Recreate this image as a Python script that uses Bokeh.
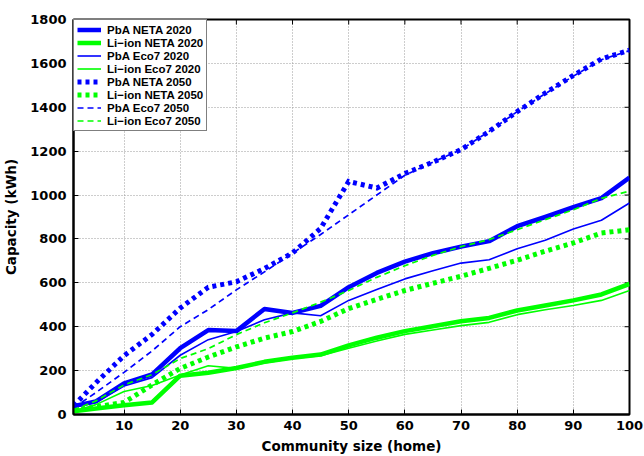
import math
from bokeh.plotting import figure
from bokeh.models import Range1d, FixedTicker, Legend, LegendItem
from bokeh.embed import file_html
from bokeh.resources import INLINE

# ---- data ----
community_size = [1, 5, 10, 15, 20, 25, 30, 35, 40, 45, 50, 55, 60, 65, 70, 75, 80, 85, 90, 95, 100]

pba_neta_2020 = [38, 60, 142, 183, 302, 385, 380, 481, 463, 495, 580, 645, 697, 735, 765, 790, 858, 900, 945, 986, 1080]
li_neta_2020 = [15, 27, 42, 55, 177, 190, 212, 240, 259, 273, 315, 350, 380, 402, 425, 440, 474, 497, 520, 547, 595]
pba_eco7_2020 = [32, 55, 130, 168, 270, 341, 378, 432, 463, 450, 520, 570, 618, 655, 690, 705, 755, 794, 845, 885, 964]
li_eco7_2020 = [15, 45, 105, 132, 180, 222, 210, 235, 255, 268, 302, 335, 365, 385, 405, 420, 455, 477, 497, 520, 565]
pba_neta_2050 = [40, 145, 268, 365, 485, 580, 605, 665, 736, 848, 1062, 1032, 1098, 1150, 1207, 1290, 1380, 1465, 1545, 1620, 1660]
li_neta_2050 = [18, 35, 55, 135, 210, 262, 308, 348, 378, 424, 483, 525, 565, 598, 630, 666, 703, 744, 782, 827, 842]
pba_eco7_2050 = [30, 100, 192, 290, 400, 478, 568, 650, 735, 820, 910, 1000, 1090, 1150, 1207, 1290, 1380, 1462, 1542, 1617, 1658]
li_eco7_2050 = [20, 62, 135, 182, 255, 300, 364, 418, 463, 512, 565, 625, 678, 725, 765, 797, 842, 888, 933, 985, 1018]

x_ticks = [10, 20, 30, 40, 50, 60, 70, 80, 90, 100]
y_ticks = [0, 200, 400, 600, 800, 1000, 1200, 1400, 1600, 1800]

series = [
    ("PbA NETA 2020", pba_neta_2020, "#0000ff", 4.5, "solid"),
    ("Li\u2212ion NETA 2020", li_neta_2020, "#00ff00", 4.5, "solid"),
    ("PbA Eco7 2020", pba_eco7_2020, "#0000ff", 1.6, "solid"),
    ("Li\u2212ion Eco7 2020", li_eco7_2020, "#00ff00", 1.6, "solid"),
    ("PbA NETA 2050", pba_neta_2050, "#0000ff", 5, "4 4"),
    ("Li\u2212ion NETA 2050", li_neta_2050, "#00ff00", 5, "4 4"),
    ("PbA Eco7 2050", pba_eco7_2050, "#0000ff", 1.7, "6 4"),
    ("Li\u2212ion Eco7 2050", li_eco7_2050, "#00ff00", 1.7, "6 4"),
]

X_MIN, X_MAX = 1, 100
Y_MIN, Y_MAX = 0, 1800

p = figure(width=644, height=456, output_backend="svg", toolbar_location=None,
           x_range=Range1d(X_MIN, X_MAX), y_range=Range1d(Y_MIN, Y_MAX),
           min_border_left=71, min_border_right=15, min_border_top=19, min_border_bottom=41)

tick_font = "DejaVu Sans"
for ax in (p.xaxis[0], p.yaxis[0]):
    ax.major_label_text_font = tick_font
    ax.major_label_text_font_style = "bold"
    ax.major_label_text_font_size = "13px"
    ax.major_label_text_color = "black"
    ax.axis_label_text_font = tick_font
    ax.axis_label_text_font_style = "bold"
    ax.axis_label_text_font_size = "13.5px"
    ax.axis_label_text_color = "black"
    ax.major_tick_in = 5
    ax.major_tick_out = 0
    ax.minor_tick_line_color = None
    ax.axis_line_width = 2
    ax.axis_line_color = "black"
    ax.major_tick_line_color = "black"

p.xaxis[0].ticker = FixedTicker(ticks=x_ticks)
p.yaxis[0].ticker = FixedTicker(ticks=y_ticks)
p.xaxis[0].axis_label = "Community size (home)"
p.yaxis[0].axis_label = "Capacity (kWh)"
p.xaxis[0].major_label_standoff = 6
p.yaxis[0].major_label_standoff = 7
p.xaxis[0].axis_label_standoff = 5
p.yaxis[0].axis_label_standoff = 8

p.xgrid.ticker = FixedTicker(ticks=x_ticks)
p.ygrid.ticker = FixedTicker(ticks=y_ticks)
for g in (p.xgrid[0], p.ygrid[0]):
    g.grid_line_color = "#9a9a9a"
    g.grid_line_dash = "1 2"
    g.grid_line_width = 1

p.outline_line_color = "black"
p.outline_line_width = 2
p.background_fill_color = "white"
p.border_fill_color = "white"

# tick marks on the top and right edges (MATLAB box style), clipped to the frame
p.scatter(x_ticks, [Y_MAX] * len(x_ticks), marker="dash", angle=math.pi / 2,
          size=10, line_color="black", line_width=1)
p.scatter([X_MAX] * len(y_ticks), y_ticks, marker="dash",
          size=10, line_color="black", line_width=1)

items = []
for label, ys, color, lw, dash in series:
    r = p.line(community_size, ys, line_color=color, line_width=lw, line_dash=dash,
               line_join="round" if dash == "solid" else "miter")
    items.append(LegendItem(label=label, renderers=[r]))

legend = Legend(items=items, location="top_left", margin=0, padding=3, spacing=0,
                glyph_width=24, glyph_height=13, label_height=13, label_standoff=6,
                label_text_font="Liberation Sans", label_text_font_style="bold",
                label_text_font_size="11.5px", label_text_color="black",
                border_line_color="black", border_line_width=1,
                background_fill_color="white", background_fill_alpha=1)
p.add_layout(legend)

open("out.html", "w").write(file_html(p, INLINE))
